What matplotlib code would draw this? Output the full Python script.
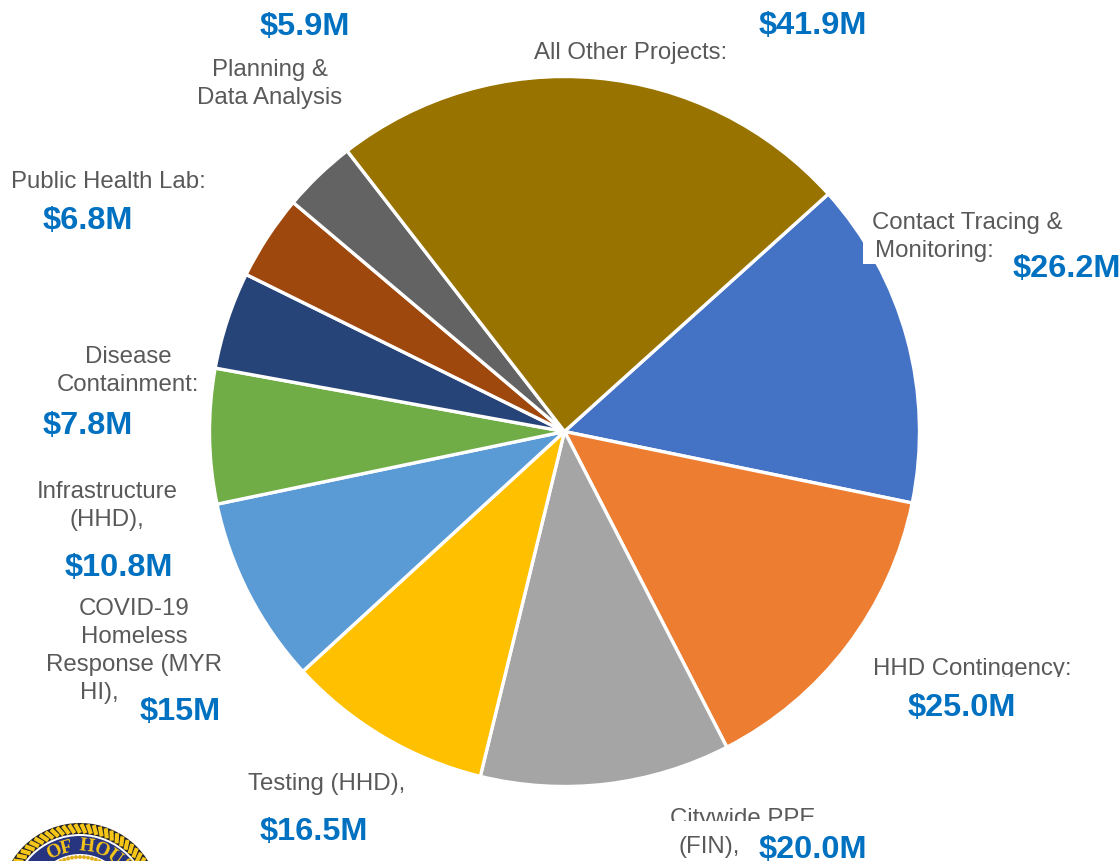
import numpy as np
import matplotlib
matplotlib.use('Agg')
import matplotlib.pyplot as plt
from matplotlib.patches import Circle, Rectangle

plt.rcParams['font.family'] = ['Liberation Sans', 'DejaVu Sans']

#values in $M, clockwise from the Contact Tracing slice
categories = [['Contact Tracing &', 'Monitoring:'], ['HHD Contingency:'], ['Citywide PPE', '(FIN),'], ['Testing (HHD),'],
              ['COVID-19', 'Homeless', 'Response (MYR', 'HI),'], ['Infrastructure', '(HHD),'], ['Disease', 'Containment:'],
              ['Public Health Lab:'], ['Planning &', 'Data Analysis'], ['All Other Projects:']]
values = [26.2, 25.0, 20.0, 16.5, 15.0, 10.8, 7.8, 6.8, 5.9, 41.9]
value_labels = ['$26.2M', '$25.0M', '$20.0M', '$16.5M', '$15M', '$10.8M', '$7.8M', '$6.8M', '$5.9M', '$41.9M']
colors = ['#4472C4', '#ED7D31', '#A5A5A5', '#FFC000', '#5B9BD5', '#70AD47', '#264478', '#9E480E', '#636363', '#997300']

#centre x of each label line in image pixels, and y of its first line
label_x = [[967, 934], [972], [743, 709], [327], [134, 134, 134, 99], [107, 107], [128, 128], [108], [270, 270], [631]]
label_y = [223, 669, 819, 784, 609, 492, 357, 182, 70, 53]
value_pos = [(1067, 269), (962, 708), (813, 850), (314, 832), (180, 712), (119, 568), (88, 426), (88, 221), (305, 27), (813, 26)]

W, H = 1120, 862
line_h = 28
fig = plt.figure(figsize=(W / 100, H / 100), dpi=100)
ax = fig.add_axes([0, 0, 1, 1])

def py(y):
    return H - y

ax.pie(values, colors=colors, startangle=42, counterclock=False, center=(564.5, py(432.5)), radius=355,
       wedgeprops={'edgecolor': 'white', 'linewidth': 2.4})

ax.set_xlim(0, W)
ax.set_ylim(0, H)
ax.set_aspect('equal')
ax.axis('off')

#white box behind the contact tracing label cuts into the blue slice
ax.add_patch(Rectangle((863, py(265)), 30, 25, fc='white', ec='none', zorder=3))

for lines, xs, y0 in zip(categories, label_x, label_y):
    for i, line in enumerate(lines):
        ax.text(xs[i], py(y0 + i * line_h), line, ha='center', va='center', fontsize=17.3, color='#595959', zorder=4)

#text boxes that clip some labels
ax.add_patch(Rectangle((660, py(833)), 160, 11, fc='white', ec='none', zorder=5))
ax.add_patch(Rectangle((860, py(683)), 220, 5, fc='white', ec='none', zorder=5))
ax.add_patch(Rectangle((5, py(194)), 210, 5, fc='white', ec='none', zorder=5))

for lab, pos in zip(value_labels, value_pos):
    ax.text(pos[0], py(pos[1]), lab, ha='center', va='center', fontsize=23.4, fontweight='bold', color='#0070C0', zorder=6)

#city seal, mostly cut off by the bottom edge
cx, cy = 80, py(904)
ax.add_patch(Circle((cx, cy), 80, fc='#20202a', ec='none', zorder=2))
for a in np.arange(0, 360, 4.5):
    a0, a1 = np.radians(a), np.radians(a + 3.5)
    ax.plot([cx + 70 * np.cos(a0), cx + 79 * np.cos(a1)], [cy + 70 * np.sin(a0), cy + 79 * np.sin(a1)],
            color='#F5C518', lw=3, solid_capstyle='butt', zorder=2)
ax.add_patch(Circle((cx, cy), 69, fc='white', ec='none', zorder=2))
ax.add_patch(Circle((cx, cy), 67, fc='#27347F', ec='none', zorder=2))
ax.add_patch(Circle((cx, cy), 49, fc='white', ec='none', zorder=2))
for a in np.arange(0, 360, 5):
    ax.add_patch(Circle((cx + 46 * np.cos(np.radians(a)), cy + 46 * np.sin(np.radians(a))), 2, fc='#E0B020', ec='none', zorder=2))
for ch, a in zip('OFHOUS', [115, 104, 83, 68, 54, 40]):
    r = 58
    ax.text(cx + r * np.cos(np.radians(a)), cy + r * np.sin(np.radians(a)), ch, rotation=a - 90, ha='center', va='center',
            fontsize=14, family='Liberation Serif', fontweight='bold', color='#F5C518', zorder=3, clip_on=True)

fig.savefig('out.png', dpi=100)
